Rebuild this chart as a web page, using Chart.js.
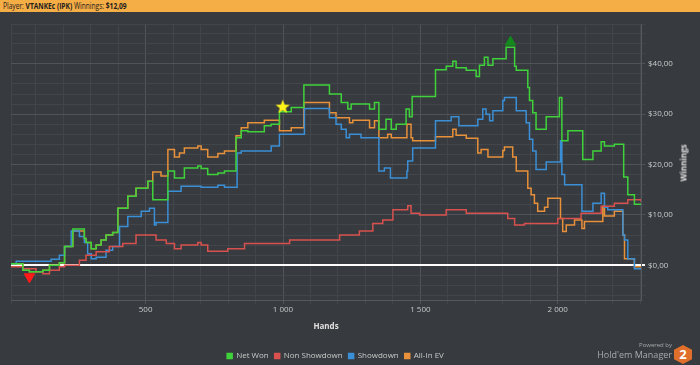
<!DOCTYPE html>
<html>
<head>
<meta charset="utf-8">
<script src="https://cdn.jsdelivr.net/npm/chart.js@4.4.1/dist/chart.umd.min.js"></script>
<style>
    body {
        margin: 0;
        width: 700px;
        height: 365px;
        overflow: hidden;
        position: relative;
        background: #373a3e;
        font-family: 'Open Sans', sans-serif;
    }
    #winChart {
        position: absolute;
        left: 0;
        top: 0;
    }
    #header {
        position: absolute;
        left: 0;
        top: 0;
        width: 700px;
        height: 12px;
        background: #f5ad46;
    }
    #header span {
        position: absolute;
        left: 3px;
        top: 0;
        color: #1d1d1d;
        font-size: 8.5px;
        line-height: 12px;
        white-space: nowrap;
        transform: scaleX(0.78);
        transform-origin: 0 50%;
    }
    #yTitle {
        position: absolute;
        left: 683px;
        top: 163px;
        transform: translate(-50%, -50%) rotate(-90deg);
        color: #e0e0e0;
        font-size: 8px;
        font-weight: bold;
        white-space: nowrap;
    }
    #logo {
        position: absolute;
        right: 28px;
        top: 341px;
        text-align: right;
        color: #a9abad;
    }
    #logo .small {
        font-size: 6px;
        line-height: 8px;
    }
    #logo .big {
        font-size: 9px;
        line-height: 12px;
    }
    #hex {
        position: absolute;
        left: 674px;
        top: 345px;
        width: 18px;
        height: 19px;
        background: #df6f2b;
        clip-path: polygon(50% 0, 100% 25%, 100% 75%, 50% 100%, 0 75%, 0 25%);
        color: #fff;
        font-weight: bold;
        font-size: 13px;
        line-height: 19px;
        text-align: center;
    }
</style>
</head>
<body>
<canvas id="winChart" width="700" height="370"></canvas>
<div id="header"><span>Player: <b>VTANKEc (IPK)</b> Winnings: <b>$12,09</b></span></div>
<div id="yTitle">Winnings</div>
<div id="logo"><div class="small">Powered by</div><div class="big">Hold'em Manager</div></div>
<div id="hex">2</div>
<script>
// hand where each level starts, and the winnings from there on
const netWonHands = [0, 53, 77, 126, 150, 186, 205, 235, 277, 283, 302, 320, 338, 356, 380, 399, 435, 465, 508, 526,
    581, 605, 641, 690, 702, 726, 763, 787, 829, 848, 872, 932, 957, 987, 1030, 1076, 1169, 1212, 1236, 1248,
    1315, 1333, 1349, 1375, 1394, 1412, 1448, 1460, 1470, 1555, 1594, 1618, 1630, 1667, 1703, 1715, 1733, 1746, 1764, 1812,
    1843, 1849, 1891, 1897, 1909, 1921, 1958, 2006, 2015, 2037, 2091, 2128, 2158, 2170, 2206, 2240, 2255, 2279, 2303];
const netWonValues = [0.3, -1.0, -1.3, -1.0, 0, 0.5, 3.7, 7.2, 5.3, 4.5, 3.3, 4, 5, 6, 6.5, 11.3, 13.7, 15.3, 16.7, 13.0,
    18.7, 17.3, 19.3, 19.7, 19.2, 18, 18.3, 18.7, 25.3, 26.7, 26.5, 27.7, 28, 30.5, 31.3, 35.8, 34, 32.3, 31, 32,
    31, 32.3, 27, 29, 27, 28, 31, 29.5, 33.5, 38.8, 39.5, 40.5, 39.2, 38.7, 37.5, 39.7, 41.3, 39.7, 41, 43.3,
    39.5, 38.7, 35.3, 32.7, 30.3, 27, 29.5, 33.3, 24.7, 26.7, 21, 22.7, 24.5, 23.7, 24, 17.5, 14, 12.1, 12.1];

const nonShowdownHands = [0, 53, 101, 126, 150, 186, 205, 259, 283, 320, 368, 417, 465, 538, 575, 605, 629, 690, 702, 726,
    799, 860, 1024, 1206, 1278, 1327, 1363, 1400, 1454, 1466, 1497, 1594, 1667, 1818, 1843, 1879, 2000, 2085, 2158, 2206,
    2255, 2303];
const nonShowdownValues = [-0.3, -0.7, -1.3, -1.7, -1, -0.3, 0, 1, 2, 2.7, 3.7, 4.3, 6, 5, 4.3, 3.3, 4, 4.5, 4, 2.8,
    3.3, 4.3, 5, 6, 6.8, 8.3, 9, 11, 11.8, 10.3, 10, 11, 10.3, 9.3, 8, 8.3, 9.3, 10.3, 11.7, 12.3,
    13, 12.6];

const showdownHands = [0, 29, 156, 186, 205, 229, 259, 277, 289, 302, 320, 356, 380, 405, 435, 484, 514, 532, 538, 581,
    629, 702, 763, 787, 833, 848, 957, 987, 1078, 1169, 1193, 1212, 1230, 1242, 1284, 1349, 1369, 1391, 1451, 1454,
    1472, 1555, 1612, 1640, 1709, 1727, 1739, 1752, 1764, 1800, 1806, 1849, 1885, 1897, 1909, 1921, 1958, 2010, 2015, 2025,
    2088, 2128, 2158, 2170, 2182, 2237, 2243, 2255, 2279, 2303];
const showdownValues = [0.3, 0.8, 1.2, 2, 3.7, 6.8, 5.7, 4.5, 2.3, 1.3, 1.6, 3, 3.7, 7.7, 9.7, 10.7, 11.3, 8, 8.5, 14.7,
    15.7, 15.5, 15.9, 15.5, 22.3, 22.7, 23.7, 26, 31.1, 29.3, 28, 27, 25.3, 26, 25.3, 18.7, 19.3, 17.3, 18.7, 20.7,
    23.3, 28.7, 29.5, 27.7, 29, 31, 30, 28.7, 30.7, 32.7, 33.3, 30.7, 28.3, 25, 22.7, 19, 20.5, 24.7, 18, 16,
    10.7, 12.3, 14.3, 11.5, 11, 6, 5, 1.3, -0.7, -0.7];

const allInHands = [0, 53, 77, 126, 150, 186, 205, 235, 277, 283, 302, 320, 338, 356, 380, 399, 435, 465, 508, 526,
    556, 581, 605, 623, 641, 690, 702, 726, 763, 787, 829, 848, 872, 932, 987, 1030, 1076, 1169, 1193, 1242,
    1254, 1315, 1333, 1349, 1381, 1394, 1451, 1466, 1472, 1555, 1618, 1630, 1667, 1709, 1721, 1746, 1800, 1806, 1836, 1849,
    1891, 1903, 1915, 1927, 1952, 1964, 2010, 2018, 2031, 2061, 2088, 2097, 2164, 2170, 2206, 2237, 2243, 2279, 2303];
const allInValues = [0.3, -1.0, -1.3, -1.0, 0, 0.5, 3.7, 6.8, 5.3, 4.5, 3.3, 4, 5, 6, 6.5, 11.3, 13.7, 15.3, 16.7, 18.5,
    17.7, 23, 21.5, 22.3, 23.3, 23.7, 23, 21.5, 22.2, 22.7, 25.7, 27.3, 28.3, 28.8, 26.7, 27.3, 32.3, 30.3, 29.3, 28.3,
    28.8, 27.3, 28.7, 25.3, 26, 25.3, 28, 25.3, 24.7, 25.5, 27, 25.8, 25.2, 22.3, 23, 21.5, 22.8, 23.5, 21.5, 18.7,
    15.3, 14, 12.3, 10.7, 11.5, 13.3, 9.3, 6.7, 8, 9, 7.3, 8.7, 11.7, 9.8, 10.7, 6, 1.3, -0.3, -0.3];

// low point, high point and the star
const lowMark = { hand: 77, value: -2.3 };
const highMark = { hand: 1828, value: 44.3 };
const starMark = { hand: 999, value: 31.5 };

// axis ranges and grid steps (labels every 500 hands / $10)
const handsMin = 10;
const handsMax = 2303;
const winMin = -6.9;
const winMax = 47.9;
const handTicks = [100, 200, 300, 400, 500, 600, 700, 800, 900, 1000, 1100, 1200, 1300, 1400, 1500, 1600, 1700,
    1800, 1900, 2000, 2100, 2200, 2300];
const winTicks = [-6, -4, -2, 0, 2, 4, 6, 8, 10, 12, 14, 16, 18, 20, 22, 24, 26, 28, 30, 32, 34, 36, 38, 40,
    42, 44, 46];

const GRID_MINOR = '#42454a';
const GRID_MAJOR = '#505357';

function toPoints(hands, values) {
    return hands.map((h, i) => ({ x: h, y: values[i] }));
}

function makeStar() {
    const c = document.createElement('canvas');
    c.width = 16;
    c.height = 16;
    const ctx = c.getContext('2d');
    ctx.beginPath();
    for (let i = 0; i < 10; i++) {
        const r = i % 2 === 0 ? 7.5 : 3.2;
        const a = -Math.PI / 2 + i * Math.PI / 5;
        ctx.lineTo(8 + r * Math.cos(a), 8.5 + r * Math.sin(a));
    }
    ctx.closePath();
    ctx.fillStyle = '#fff31a';
    ctx.fill();
    return c;
}

function lineSet(label, hands, values, color) {
    return {
        type: 'line',
        label: label,
        data: toPoints(hands, values),
        borderColor: color,
        backgroundColor: color,
        borderWidth: 1.5,
        pointRadius: 0,
        stepped: true,
        fill: false
    };
}

function formatHands(v) {
    return String(v).replace(/\B(?=(\d{3})+(?!\d))/g, ' ');
}

// legend sits a bit left of the canvas centre in the original
const legendShift = {
    id: 'legendShift',
    afterLayout(chart) {
        chart.legend.left -= 20;
        chart.legend.right -= 20;
    }
};

Chart.defaults.font.family = "'Open Sans', sans-serif";
Chart.defaults.font.size = 8;
Chart.defaults.color = '#c8c9ca';

const ctx = document.getElementById('winChart').getContext('2d');

new Chart(ctx, {
    type: 'line',
    data: {
        datasets: [
            lineSet('Net Won', netWonHands, netWonValues, '#3fd23b'),
            lineSet('Non Showdown', nonShowdownHands, nonShowdownValues, '#d9514f'),
            lineSet('Showdown', showdownHands, showdownValues, '#3a8fd6'),
            lineSet('All-In EV', allInHands, allInValues, '#e8913a'),
            {
                type: 'scatter',
                label: 'low',
                data: [{ x: lowMark.hand, y: lowMark.value }],
                pointStyle: 'triangle',
                rotation: 180,
                radius: 6,
                backgroundColor: '#ff1a1a',
                borderColor: '#ff1a1a',
                order: -1
            },
            {
                type: 'scatter',
                label: 'high',
                data: [{ x: highMark.hand, y: highMark.value }],
                pointStyle: 'triangle',
                radius: 6,
                backgroundColor: '#148a1c',
                borderColor: '#148a1c',
                order: -1
            },
            {
                type: 'scatter',
                label: 'star',
                data: [{ x: starMark.hand, y: starMark.value }],
                pointStyle: makeStar(),
                order: -1
            }
        ]
    },
    plugins: [legendShift],
    options: {
        responsive: false,
        animation: false,
        devicePixelRatio: 1,
        layout: {
            padding: { top: 24, left: 11, right: 0, bottom: 0 }
        },
        plugins: {
            tooltip: { enabled: false },
            legend: {
                position: 'bottom',
                labels: {
                    boxWidth: 5,
                    boxHeight: 5,
                    padding: 6,
                    color: '#c8c9ca',
                    font: { size: 8 },
                    filter: (item) => item.datasetIndex < 4
                }
            }
        },
        scales: {
            x: {
                type: 'linear',
                min: handsMin,
                max: handsMax,
                afterFit: (scale) => { scale.height = 46; },
                afterBuildTicks: (scale) => {
                    scale.ticks = [handsMin].concat(handTicks).map((v) => ({ value: v }));
                },
                border: { display: true, color: '#55585c' },
                grid: {
                    tickLength: 4,
                    color: (c) => (c.tick && c.tick.value % 500 === 0 ? GRID_MAJOR : GRID_MINOR)
                },
                ticks: {
                    autoSkip: false,
                    maxRotation: 0,
                    padding: 1,
                    callback: (v) => (v % 500 === 0 ? formatHands(v) : '')
                },
                title: {
                    display: true,
                    text: 'Hands',
                    color: '#e0e0e0',
                    font: { size: 8, weight: 'bold' },
                    padding: { top: 0, bottom: 14 }
                }
            },
            y: {
                type: 'linear',
                position: 'right',
                min: winMin,
                max: winMax,
                afterFit: (scale) => { scale.width = 59; },
                afterBuildTicks: (scale) => {
                    scale.ticks = winTicks.concat([winMax]).map((v) => ({ value: v }));
                },
                border: { display: true, color: '#55585c' },
                grid: {
                    tickLength: 4,
                    color: (c) => {
                        if (!c.tick) return GRID_MINOR;
                        if (c.tick.value === 0) return '#ffffff';
                        return c.tick.value % 10 === 0 ? GRID_MAJOR : GRID_MINOR;
                    },
                    lineWidth: (c) => (c.tick && c.tick.value === 0 ? 2 : 1)
                },
                ticks: {
                    autoSkip: false,
                    padding: 3,
                    callback: (v) => (v % 10 === 0 ? '$' + v + ',00' : '')
                }
            }
        }
    }
});
</script>
</body>
</html>
